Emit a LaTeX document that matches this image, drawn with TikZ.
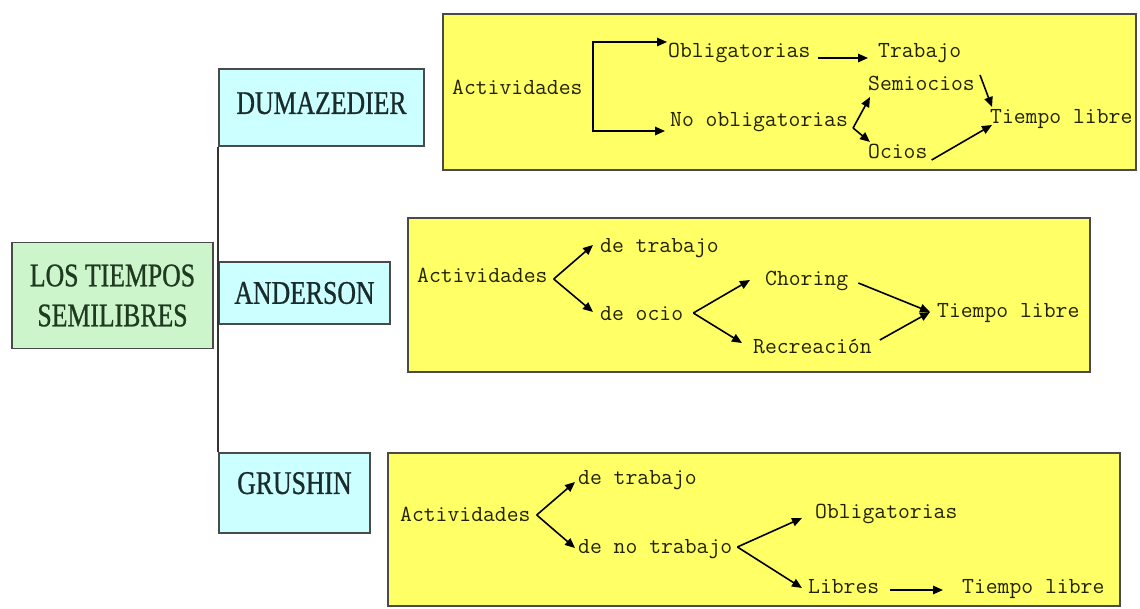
\documentclass[tikz,border=0pt]{standalone}
\usepackage{fontspec}
\usetikzlibrary{arrows.meta}
\newfontfamily\labf[FakeStretch=0.78,FakeBold=0.8]{Liberation Serif}
\definecolor{yel}{HTML}{FFFF66}
\definecolor{cya}{HTML}{CCFFFF}
\definecolor{grn}{HTML}{CCF5CC}
\definecolor{bord}{HTML}{4A4A4A}
\definecolor{txtc}{HTML}{222200}
\definecolor{grntxt}{HTML}{1F3A1F}
\definecolor{cyatxt}{HTML}{1A2B2B}
\tikzset{
  ybox/.style={draw=bord, line width=1.6pt, fill=yel, inner sep=0pt},
  cbox/.style={draw=bord, line width=1.6pt, fill=cya, inner sep=0pt, text=cyatxt,
     font=\labf\fontsize{33}{40}\selectfont},
  gbox/.style={draw=bord, line width=1.6pt, fill=grn, inner sep=0pt, text=grntxt, align=center,
     font=\labf\fontsize{33}{40}\selectfont},
  txt/.style={font=\ttfamily\fontsize{23}{27}\selectfont\addfontfeatures{FakeBold=1.5}, inner sep=0pt, text height=12pt,
     text depth=4pt, anchor=west, text=txtc},
  arr/.style={-{Triangle[length=10pt,width=8.5pt]}, line width=1.6pt, draw=black},
  conn/.style={line width=1.6pt, draw=black!80}
}
\begin{document}
\begin{tikzpicture}[x=1pt,y=-1pt]
\useasboundingbox[fill=white] (0,0) rectangle (1140,609);

% left tree
\node[gbox, minimum width=201pt, minimum height=106pt] (root) at (112.5,295.5) {LOS TIEMPOS\\SEMILIBRES};
\node[cbox, minimum width=205pt, minimum height=77pt, text depth=9pt] (dum) at (321.5,107.5) {DUMAZEDIER};
\node[cbox, minimum width=171pt, minimum height=62pt] (and) at (304.5,293) {ANDERSON};
\node[cbox, minimum width=151pt, minimum height=80pt, text depth=20pt] (gru) at (294.5,493) {GRUSHIN};
\draw[conn] (dum.south west) -- (gru.north west);

% yellow boxes
\node[ybox, minimum width=693pt, minimum height=156pt] (box1) at (789.5,92) {};
\node[ybox, minimum width=682pt, minimum height=154pt] (box2) at (749,295) {};
\node[ybox, minimum width=732pt, minimum height=153pt] (box3) at (754,529.5) {};

% box 1 : DUMAZEDIER
\node[txt] (act1) at (452,91) {Actividades};
\node[txt] (obl1) at (668,54) {Obligatorias};
\node[txt] (noobl1) at (670,123) {No obligatorias};
\node[txt] (trab1) at (878,54) {Trabajo};
\node[txt] (semi1) at (868,87) {Semiocios};
\node[txt] (tl1) at (990,120) {Tiempo libre};
\node[txt] (ocios1) at (868,155) {Ocios};

\draw[arr] ([xshift=10pt]act1.east) |- ([xshift=-1pt,yshift=12pt]obl1.west);
\draw[arr] ([xshift=10pt]act1.east) |- ([xshift=-5pt,yshift=-8pt]noobl1.west);
\draw[arr] ([xshift=7pt,yshift=-4pt]obl1.east) -- ([xshift=-10pt,yshift=-4pt]trab1.west);
\draw[arr] ([xshift=5pt,yshift=-5pt]noobl1.east) -- ([xshift=2pt,yshift=-10pt]semi1.west);
\draw[arr] ([xshift=5pt,yshift=-5pt]noobl1.east) -- ([xshift=2pt,yshift=13pt]ocios1.west);
\draw[arr] ([xshift=5pt,yshift=12pt]semi1.east) -- ([xshift=2pt,yshift=13pt]tl1.west);
\draw[arr] ([xshift=4pt,yshift=-5pt]ocios1.east) -- ([xshift=2pt,yshift=-5pt]tl1.west);

% box 2 : ANDERSON
\node[txt] (act2) at (417,279) {Actividades};
\node[txt] (detrab2) at (600,249) {de trabajo};
\node[txt] (deocio2) at (600,317) {de ocio};
\node[txt] (chor2) at (765,282) {Choring};
\node[txt] (recr2) at (753,350) {Recreación};
\node[txt] (tl2) at (937,314) {Tiempo libre};

\draw[arr] ([xshift=6pt]act2.east) -- ([xshift=-7pt,yshift=4pt]detrab2.west);
\draw[arr] ([xshift=6pt]act2.east) -- ([xshift=-7pt,yshift=5pt]deocio2.west);
\draw[arr] ([xshift=10pt,yshift=4pt]deocio2.east) -- ([xshift=-15pt,yshift=2pt]chor2.west);
\draw[arr] ([xshift=10pt,yshift=4pt]deocio2.east) -- ([xshift=-11pt,yshift=7pt]recr2.west);
\draw[arr] ([xshift=10pt,yshift=-1pt]chor2.east) -- ([xshift=-7pt,yshift=2pt]tl2.west);
\draw[arr] ([xshift=8pt,yshift=10pt]recr2.east) -- ([xshift=-7pt,yshift=2pt]tl2.west);

% box 3 : GRUSHIN
\node[txt] (act3) at (400,517) {Actividades};
\node[txt] (detrab3) at (578,480) {de trabajo};
\node[txt] (denotrab3) at (578,549) {de no trabajo};
\node[txt] (obl3) at (815,514) {Obligatorias};
\node[txt] (lib3) at (808,589) {Libres};
\node[txt] (tl3) at (962,589) {Tiempo libre};

\draw[arr] ([xshift=6pt,yshift=2pt]act3.east) -- ([xshift=-3pt,yshift=-2pt]detrab3.west);
\draw[arr] ([xshift=6pt,yshift=2pt]act3.east) -- ([xshift=-3pt,yshift=1pt]denotrab3.west);
\draw[arr] ([xshift=5pt,yshift=2pt]denotrab3.east) -- ([xshift=-13pt,yshift=-4pt]obl3.west);
\draw[arr] ([xshift=5pt,yshift=2pt]denotrab3.east) -- ([xshift=-6pt,yshift=1pt]lib3.west);
\draw[arr] ([xshift=11pt,yshift=-1pt]lib3.east) -- ([xshift=-19pt,yshift=-1pt]tl3.west);
\end{tikzpicture}
\end{document}
